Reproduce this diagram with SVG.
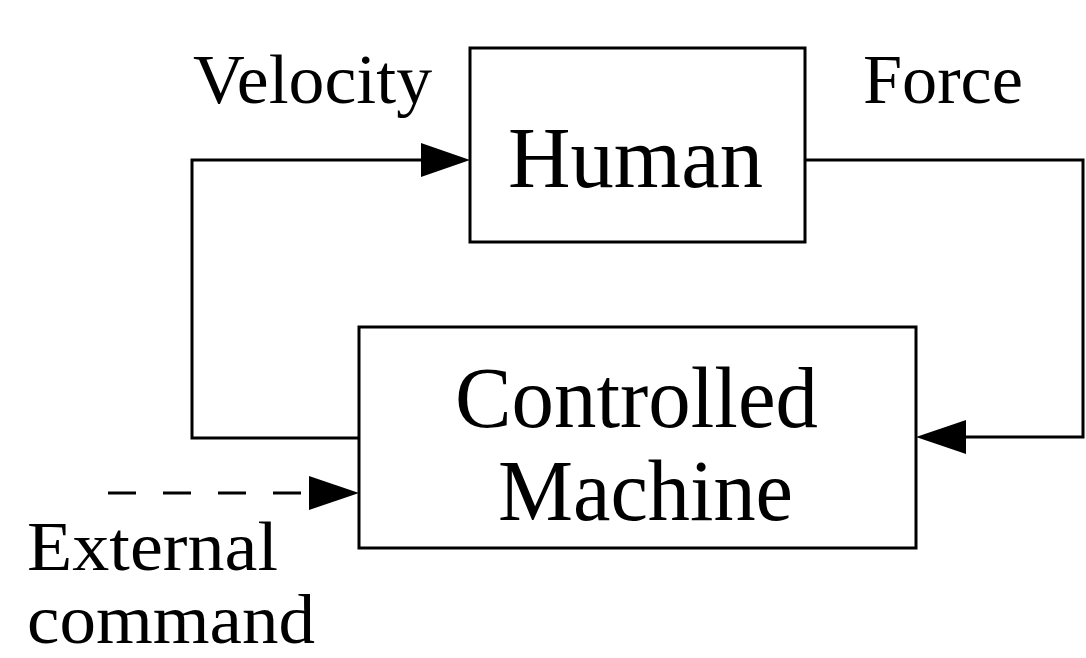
<svg xmlns="http://www.w3.org/2000/svg" width="1086" height="658" viewBox="0 0 1086 658">
  <style>
    .box { fill: #ffffff; stroke: #000000; stroke-width: 3; }
    .wire { fill: none; stroke: #000000; stroke-width: 3; }
    .dashed { stroke-dasharray: 28 27; }
    .head { fill: #000000; stroke: none; }
    .big { font-family: "Liberation Serif", "DejaVu Serif", serif; font-size: 86px; fill: #000000; }
    .lbl { font-family: "Liberation Serif", "DejaVu Serif", serif; font-size: 70px; fill: #000000; }
  </style>
  <rect width="1086" height="658" fill="#ffffff"/>

  <!-- signal lines between the two blocks -->
  <g id="connectors">
    <path class="wire" d="M359,438 H192 V160 H423"/>
    <polygon class="head" points="421,143 470,160 421,177"/>
    <path class="wire" d="M805,160 H1083 V437 H964"/>
    <polygon class="head" points="966,420 916,437 966,454"/>
    <path class="wire dashed" d="M108,493 H309"/>
    <polygon class="head" points="309,476 359,493 309,510"/>
  </g>

  <g id="human">
    <rect class="box" x="470" y="48" width="335" height="194"/>
    <text class="big" x="508" y="187" textLength="255" lengthAdjust="spacingAndGlyphs">Human</text>
  </g>

  <g id="machine">
    <rect class="box" x="359" y="327" width="557" height="221"/>
    <text class="big" x="455" y="427" textLength="363" lengthAdjust="spacingAndGlyphs">Controlled</text>
    <text class="big" x="498" y="520" textLength="295" lengthAdjust="spacingAndGlyphs">Machine</text>
  </g>

  <g id="labels">
    <text class="lbl" x="193" y="103" textLength="239" lengthAdjust="spacingAndGlyphs">Velocity</text>
    <text class="lbl" x="863" y="103" textLength="160" lengthAdjust="spacingAndGlyphs">Force</text>
    <text class="lbl" x="27" y="570" textLength="251" lengthAdjust="spacingAndGlyphs">External</text>
    <text class="lbl" x="27" y="643" textLength="288" lengthAdjust="spacingAndGlyphs">command</text>
  </g>
</svg>
